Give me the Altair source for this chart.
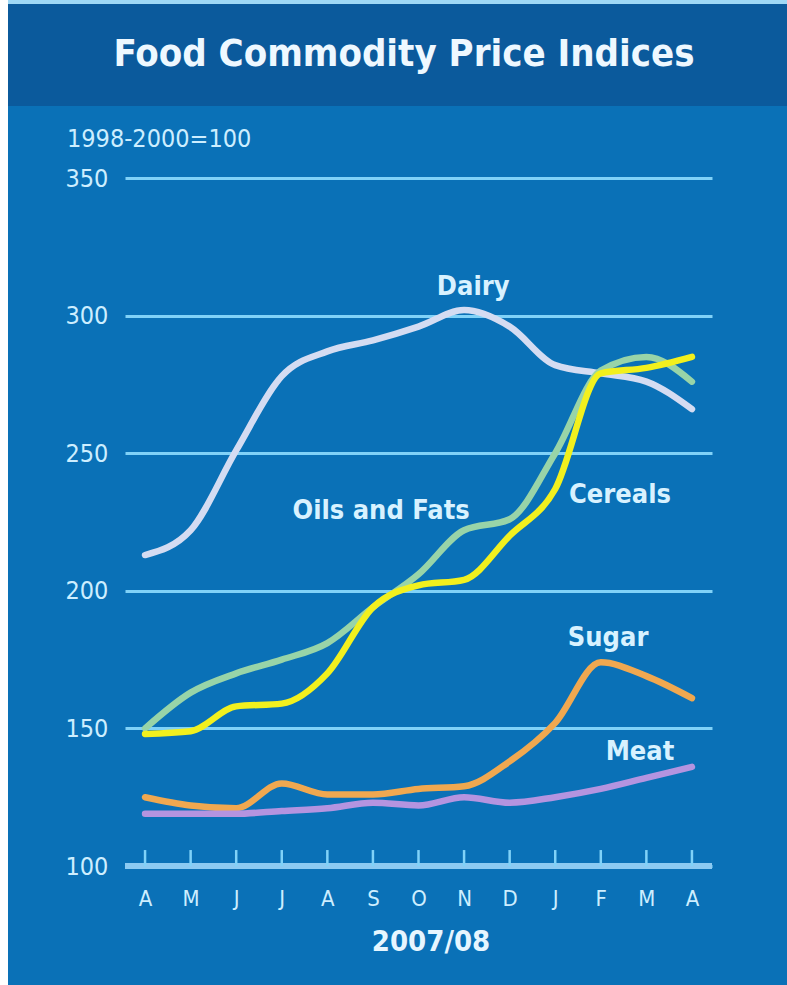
import altair as alt
import pandas as pd

months = ["A", "M", "J", "J", "A", "S", "O", "N", "D", "J", "F", "M", "A"]
dairy = [213, 222, 251, 278, 287, 291, 296, 302, 296, 282, 279, 276, 266]
oils = [150, 163, 170, 175, 181, 194, 206, 222, 226, 250, 280, 285, 276]
cereals = [148, 149, 158, 159, 170, 194, 202, 204, 220, 237, 279, 281, 285]
sugar = [125, 122, 121, 130, 126, 126, 128, 129, 138, 152, 174, 169, 161]
meat = [119, 119, 119, 120, 121, 123, 122, 125, 123, 125, 128, 132, 136]

series_names = ["Dairy", "Oils and Fats", "Cereals", "Sugar", "Meat"]
series_vals = [dairy, oils, cereals, sugar, meat]
series_colors = ["#d4dcf2", "#98d4a8", "#f2f01e", "#f0a850", "#b494e0"]

label_text = ["Dairy", "Oils and Fats", "Cereals", "Sugar", "Meat"]
label_x = [7.2, 5.18, 10.42, 10.16, 10.86]
label_y = [310.4, 229.0, 234.8, 182.8, 141.4]

y_ticks = [100, 150, 200, 250, 300, 350]

rows = []
for name, vals in zip(series_names, series_vals):
    for i, v in enumerate(vals):
        rows.append({"series": name, "idx": i, "value": v})
df = pd.DataFrame(rows)
labels_df = pd.DataFrame({"text": label_text, "x": label_x, "y": label_y})
ticks_df = pd.DataFrame({"idx": list(range(len(months))), "y0": 100, "y1": 105.8})

FONT = "DejaVu Sans Condensed, DejaVu Sans, sans-serif"
TXT = "#cdeeff"
GRID = "#80d2f8"

month_expr = "[" + ",".join("'" + m + "'" for m in months) + "][datum.value]"

xscale = alt.Scale(domain=[-0.44, 12.44], nice=False, zero=False)
yscale = alt.Scale(domain=[100, 350], nice=False, zero=False)

W, H = 587, 688
PL, PT = 125, 178

# decorative background pieces (pixel positions relative to plot origin)
band = alt.Chart(pd.DataFrame({"a": [0]})).mark_rect(color="#0b5a9c").encode(
    x=alt.value(8 - PL), x2=alt.value(787 - PL), y=alt.value(4 - PT), y2=alt.value(106 - PT)
)
topstrip = alt.Chart(pd.DataFrame({"a": [0]})).mark_rect(color="#9fd8f6").encode(
    x=alt.value(8 - PL), x2=alt.value(787 - PL), y=alt.value(0 - PT), y2=alt.value(4 - PT)
)
leftstrip = alt.Chart(pd.DataFrame({"a": [0]})).mark_rect(color="#ffffff").encode(
    x=alt.value(0 - PL), x2=alt.value(8 - PL), y=alt.value(0 - PT), y2=alt.value(985 - PT)
)
title = alt.Chart(pd.DataFrame({"t": ["Food Commodity Price Indices"]})).mark_text(
    font=FONT, fontSize=38, fontWeight="bold", color="#eef8ff", align="center", baseline="middle"
).encode(text="t:N", x=alt.value(404 - PL), y=alt.value(55 - PT))
unit = alt.Chart(pd.DataFrame({"t": ["1998-2000=100"]})).mark_text(
    font=FONT, fontSize=25, color=TXT, align="left", baseline="middle"
).encode(text="t:N", x=alt.value(67 - PL), y=alt.value(139 - PT))
xtitle = alt.Chart(pd.DataFrame({"t": ["2007/08"]})).mark_text(
    font=FONT, fontSize=29, fontWeight="bold", color="#e6f6ff", align="center", baseline="middle"
).encode(text="t:N", x=alt.value(431 - PL), y=alt.value(942 - PT))

base_axis_x = alt.Axis(
    values=list(range(len(months))), labelExpr=month_expr, title=None, grid=False,
    domain=False, ticks=False, labelFont=FONT, labelFontSize=22, labelColor=TXT,
    labelPadding=22, labelAngle=0,
)
base_axis_y = alt.Axis(
    values=y_ticks, title=None, grid=True, gridColor=GRID, gridWidth=3, domain=False,
    ticks=False, labelFont=FONT, labelFontSize=25, labelColor=TXT, labelAlign="left",
    labelPadding=60, labelBaseline="middle",
)

lines = alt.Chart(df).mark_line(strokeWidth=6.5, interpolate="monotone", strokeCap="round").encode(
    x=alt.X("idx:Q", scale=xscale, axis=base_axis_x),
    y=alt.Y("value:Q", scale=yscale, axis=base_axis_y),
    color=alt.Color("series:N", scale=alt.Scale(domain=series_names, range=series_colors), legend=None),
    order=alt.Order("idx:Q"),
    detail="series:N",
)

baseline = alt.Chart(pd.DataFrame({"y": [100]})).mark_rule(color="#8ccaf2", strokeWidth=6).encode(
    y=alt.Y("y:Q", scale=yscale), x=alt.value(0), x2=alt.value(W)
)

ticks = alt.Chart(ticks_df).mark_rule(color=GRID, strokeWidth=2.5).encode(
    x=alt.X("idx:Q", scale=xscale), y=alt.Y("y0:Q", scale=yscale), y2="y1:Q"
)

labels = alt.Chart(labels_df).mark_text(
    font=FONT, fontSize=27, fontWeight="bold", color="#d8f2ff", align="center", baseline="middle"
).encode(x=alt.X("x:Q", scale=xscale), y=alt.Y("y:Q", scale=yscale), text="text:N")

chart = alt.layer(
    leftstrip, topstrip, band, title, unit, xtitle, lines, baseline, ticks, labels
).properties(
    width=W, height=H,
    background="#0a71b7",
    padding={"left": PL, "top": PT, "right": 787 - PL - W, "bottom": 985 - PT - H},
    autosize=alt.AutoSizeParams(type="none"),
).configure_view(stroke=None)

chart.save("out.html", embed_options={"renderer": "svg", "actions": False})
